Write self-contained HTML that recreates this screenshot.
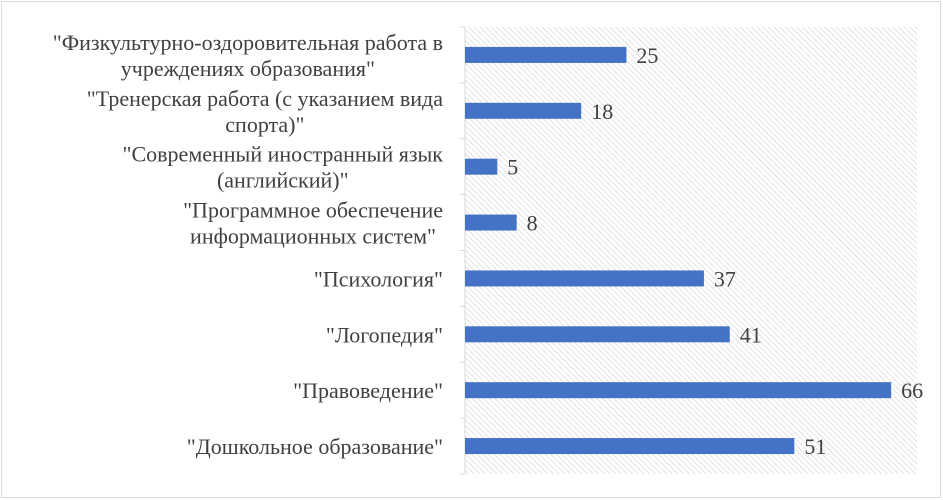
<!DOCTYPE html>
<html><head><meta charset="utf-8"><style>
html,body{margin:0;padding:0;background:#fff}
svg{display:block}
text{font-family:"Liberation Serif",serif;fill:#404040}
</style></head><body>
<svg id="chart" width="943" height="500">
<defs>
<pattern id="hatch" width="4" height="4" patternUnits="userSpaceOnUse" patternTransform="rotate(-45)">
<line x1="0" y1="0" x2="0" y2="4" stroke="#c8c8c8" stroke-width="1"/>
</pattern>
</defs>
<rect x="1.5" y="1.5" width="939" height="496" fill="#fff" stroke="#d9d9d9"/>
<rect x="465" y="27" width="452" height="447" fill="url(#hatch)"/>
<g id="marks"></g>
</svg>
<script>
const categories=[["\"Физкультурно-оздоровительная работа в","учреждениях образования\""],["\"Тренерская работа (с указанием вида","спорта)\""],["\"Современный иностранный язык","(английский)\""],["\"Программное обеспечение","информационных систем\""],["\"Психология\""],["\"Логопедия\""],["\"Правоведение\""],["\"Дошкольное образование\""]];
const values=[25,18,5,8,37,41,66,51];
const valueLabels=["25","18","5","8","37","41","66","51"];
const X0=465,XMAX=70,W=452,Y0=27,H=447;
const band=H/categories.length;
const x=v=>X0+v/XMAX*W;
const yc=i=>Y0+band*(i+0.5);
const g=document.getElementById('marks');
const NS='http://www.w3.org/2000/svg';
function mk(t,a){const e=document.createElementNS(NS,t);for(const k in a)e.setAttribute(k,a[k]);g.appendChild(e);return e;}
const ax=mk('line',{x1:X0,y1:Y0,x2:X0,y2:Y0+H,stroke:'#d9d9d9'});


for(let i=0;i<=categories.length;i++){
 const t=mk('line',{x1:X0-5,x2:X0,y1:Y0+band*i,y2:Y0+band*i,stroke:'#d9d9d9'});
 
 
}
values.forEach((v,i)=>{
 const r=mk('rect',{x:X0,y:yc(i)-8,width:x(v)-X0,height:16,fill:'#4472c4'});
 
 
 const l=mk('text',{x:x(v)+10,y:yc(i)+8,'font-size':22});
 l.textContent=valueLabels[i];
 
 
 const lines=categories[i];
 const c=mk('text',{'text-anchor':'middle','font-size':22});
 
 
 const spans=lines.map((s,j)=>{
  const ts=document.createElementNS(NS,'tspan');
  ts.setAttribute('y',yc(i)+8+(j-(lines.length-1)/2)*26);
  ts.textContent=s;c.appendChild(ts);return ts;
 });
 let mw=0;spans.forEach(s=>{s.setAttribute('x',0);mw=Math.max(mw,s.getComputedTextLength());});
 spans.forEach(s=>s.setAttribute('x',443-mw/2));
});
</script>
</body></html>
